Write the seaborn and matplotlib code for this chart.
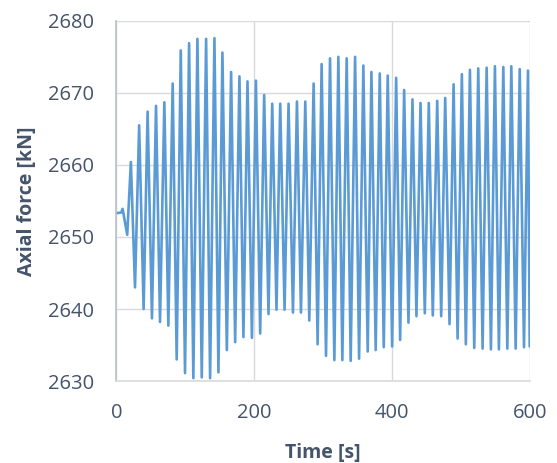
import pandas as pd
import numpy as np
import matplotlib.pyplot as plt
import seaborn as sns

# extremes of the signal (time [s], axial force [kN])
time_s = [0, 7, 9, 15.7,
          21, 27, 33, 39.5, 45.3, 51.6, 57.5, 63.3, 69.6, 75.4,
          81.7, 87.5, 93.4, 99.6, 105.5, 111.7, 117.6, 123.9, 130.2, 136,
          142.3, 148.1, 153.9, 160.3, 166.5, 172.4, 178.6, 184.4, 190.3, 196.7,
          202.5, 208.7, 214.5, 220.8, 226.2, 232.4, 237.8, 244.1, 249.9, 256.3,
          262.1, 267.9, 274.2, 280, 286.3, 292.1, 297.9, 304.3, 310.1, 316.4,
          322.2, 328, 334.3, 340.1, 346.5, 352.3, 358.5, 364.8, 370.2, 376.4,
          382.3, 388.1, 393.9, 400.3, 406.1, 411.9, 417.7, 424, 429.8, 435.6,
          441.5, 447.7, 453.5, 459.3, 465.7, 471.5, 477.3, 483.6, 489.5, 495.3,
          501.5, 507.3, 513.2, 519.5, 525.3, 531.6, 537.5, 543.7, 549.5, 555.3,
          561.7, 567.5, 573.3, 579.6, 585.5, 591.7, 597.5, 600]
force_kn = [2653.3, 2653.4, 2653.9, 2650.3,
            2660.4, 2643.0, 2665.5, 2640.0, 2667.4, 2638.7, 2668.2, 2638.2, 2668.7, 2637.7,
            2671.3, 2633.0, 2675.9, 2631.1, 2676.9, 2630.4, 2677.5, 2630.5, 2677.5, 2630.4,
            2677.6, 2631.2, 2675.6, 2634.3, 2672.9, 2635.4, 2672.3, 2636.1, 2671.6, 2636.0,
            2671.7, 2636.6, 2669.7, 2639.3, 2668.5, 2639.9, 2668.5, 2639.9, 2668.5, 2639.5,
            2668.8, 2639.5, 2668.8, 2638.4, 2671.3, 2635.1, 2674.0, 2633.5, 2674.8, 2632.9,
            2675.0, 2632.9, 2674.8, 2632.8, 2675.0, 2633.1, 2673.8, 2634.1, 2672.9, 2634.3,
            2672.7, 2634.7, 2672.4, 2634.8, 2672.1, 2635.7, 2670.4, 2638.1, 2669.1, 2639.0,
            2668.6, 2639.4, 2668.6, 2639.1, 2668.9, 2639.0, 2669.3, 2637.9, 2671.2, 2635.9,
            2672.6, 2635.1, 2673.2, 2634.6, 2673.4, 2634.5, 2673.5, 2634.4, 2673.7, 2634.4,
            2673.6, 2634.5, 2673.7, 2634.5, 2673.3, 2634.7, 2673.1, 2634.8]

df = pd.DataFrame({"Time [s]": time_s, "Axial force [kN]": force_kn})

sns.set_theme(style="whitegrid")
plt.rcParams['font.family'] = ['Open Sans', 'DejaVu Sans']
txt_col = "#44546A"

fig = plt.figure(figsize=(5.57, 4.63), dpi=100)
ax = fig.add_axes([0.209, 0.177, 0.742, 0.778])

sns.lineplot(data=df, x="Time [s]", y="Axial force [kN]", ax=ax,
             color="#5B9BD5", linewidth=1.9, sort=False)

ax.set_xlim(0, 600)
ax.set_ylim(2630, 2680)
ax.set_xticks([0, 200, 400, 600])
ax.set_yticks([2630, 2640, 2650, 2660, 2670, 2680])
ax.grid(True, color="#d9d9d9", linewidth=1.0)
ax.tick_params(length=0, labelsize=14.5, colors=txt_col, pad=16)

for side in ["top", "right"]:
    ax.spines[side].set_visible(False)
ax.spines["left"].set_color("#b8c0cc")
ax.spines["bottom"].set_color("#d9d9d9")
ax.spines["left"].set_linewidth(1.2)
ax.spines["bottom"].set_linewidth(1.2)

ax.set_xlabel("Time [s]", fontsize=14, fontweight="bold", color=txt_col, labelpad=14)
ax.set_ylabel("Axial force [kN]", fontsize=14, fontweight="bold", color=txt_col, labelpad=8)

fig.savefig("out.png", dpi=100)
